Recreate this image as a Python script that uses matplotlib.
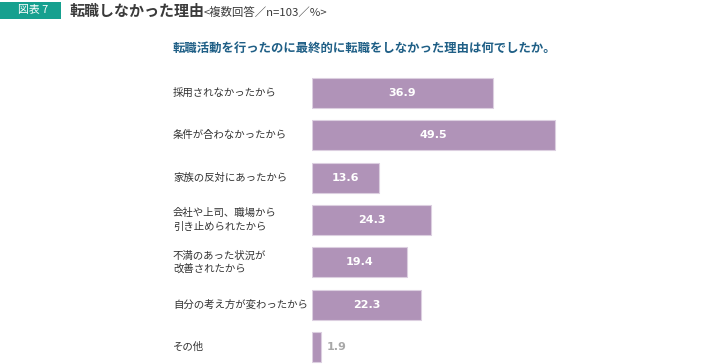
import matplotlib
matplotlib.use("Agg")
import matplotlib.pyplot as plt
import matplotlib.transforms as mtransforms
from matplotlib.patches import Rectangle

plt.rcParams['font.family'] = ['Noto Sans CJK JP', 'DejaVu Sans']

# data
labels = ["採用されなかったから",
          "条件が合わなかったから",
          "家族の反対にあったから",
          "会社や上司、職場から\n引き止められたから",
          "不満のあった状況が\n改善されたから",
          "自分の考え方が変わったから",
          "その他"]
values = [36.9, 49.5, 13.6, 24.3, 19.4, 22.3, 1.9]

W, H = 728, 364
fig = plt.figure(figsize=(W / 100, H / 100), dpi=100)
fig.patch.set_facecolor("white")

# axes placed in pixel terms: x from 312px, 4.91 px per unit
x0 = 312
px_per = 4.91
xmax = 50
row0, step = 93, 42.33
top_px, bot_px = 72, 364
ax = fig.add_axes([x0 / W, 1 - bot_px / H, xmax * px_per / W, (bot_px - top_px) / H])
ax.set_xlim(0, xmax)
ax.set_ylim((bot_px - row0) / step, (top_px - row0) / step)
ax.axis("off")

ypos = list(range(len(values)))
bar_col = "#b093b8"
ax.barh(ypos, values, height=30 / step, color=bar_col, edgecolor="#dccfe0", linewidth=0.8)

for y, v in zip(ypos, values):
    if v > 5:
        ax.text(v / 2, y, f"{v:.1f}", ha="center", va="center", color="white",
                fontsize=8.0, fontweight="bold", family="DejaVu Sans")
    else:
        ax.text(v + 1.0, y, f"{v:.1f}", ha="left", va="center", color="#a8a8a8",
                fontsize=8.0, fontweight="bold", family="DejaVu Sans")

trans = mtransforms.blended_transform_factory(fig.transFigure, ax.transData)
for y, lab in zip(ypos, labels):
    ax.text(173 / W, y, lab, transform=trans, ha="left", va="center",
            fontsize=7.5, color="#333333", linespacing=1.45, clip_on=False)

# header
fig.patches.append(Rectangle((0, 1 - 18.5 / H), 61 / W, 16.5 / H, transform=fig.transFigure,
                             facecolor="#16a08f", edgecolor="none"))
fig.text(33 / W, 1 - 10.5 / H, "図表 7", ha="center", va="center", color="white",
         fontsize=7.8)
fig.text(70 / W, 1 - 11 / H, "転職しなかった理由", ha="left", va="center",
         color="#3a3a3a", fontsize=10.8, fontweight="bold")
fig.text(204 / W, 1 - 12 / H, "<複数回答／n=103／%>", ha="left", va="center",
         color="#3a3a3a", fontsize=8.2)

fig.text(173 / W, 1 - 48 / H, "転職活動を行ったのに最終的に転職をしなかった理由は何でしたか。",
         ha="left", va="center", color="#1f5f86", fontsize=8.9, fontweight="bold")

fig.savefig("out.png", dpi=100)
